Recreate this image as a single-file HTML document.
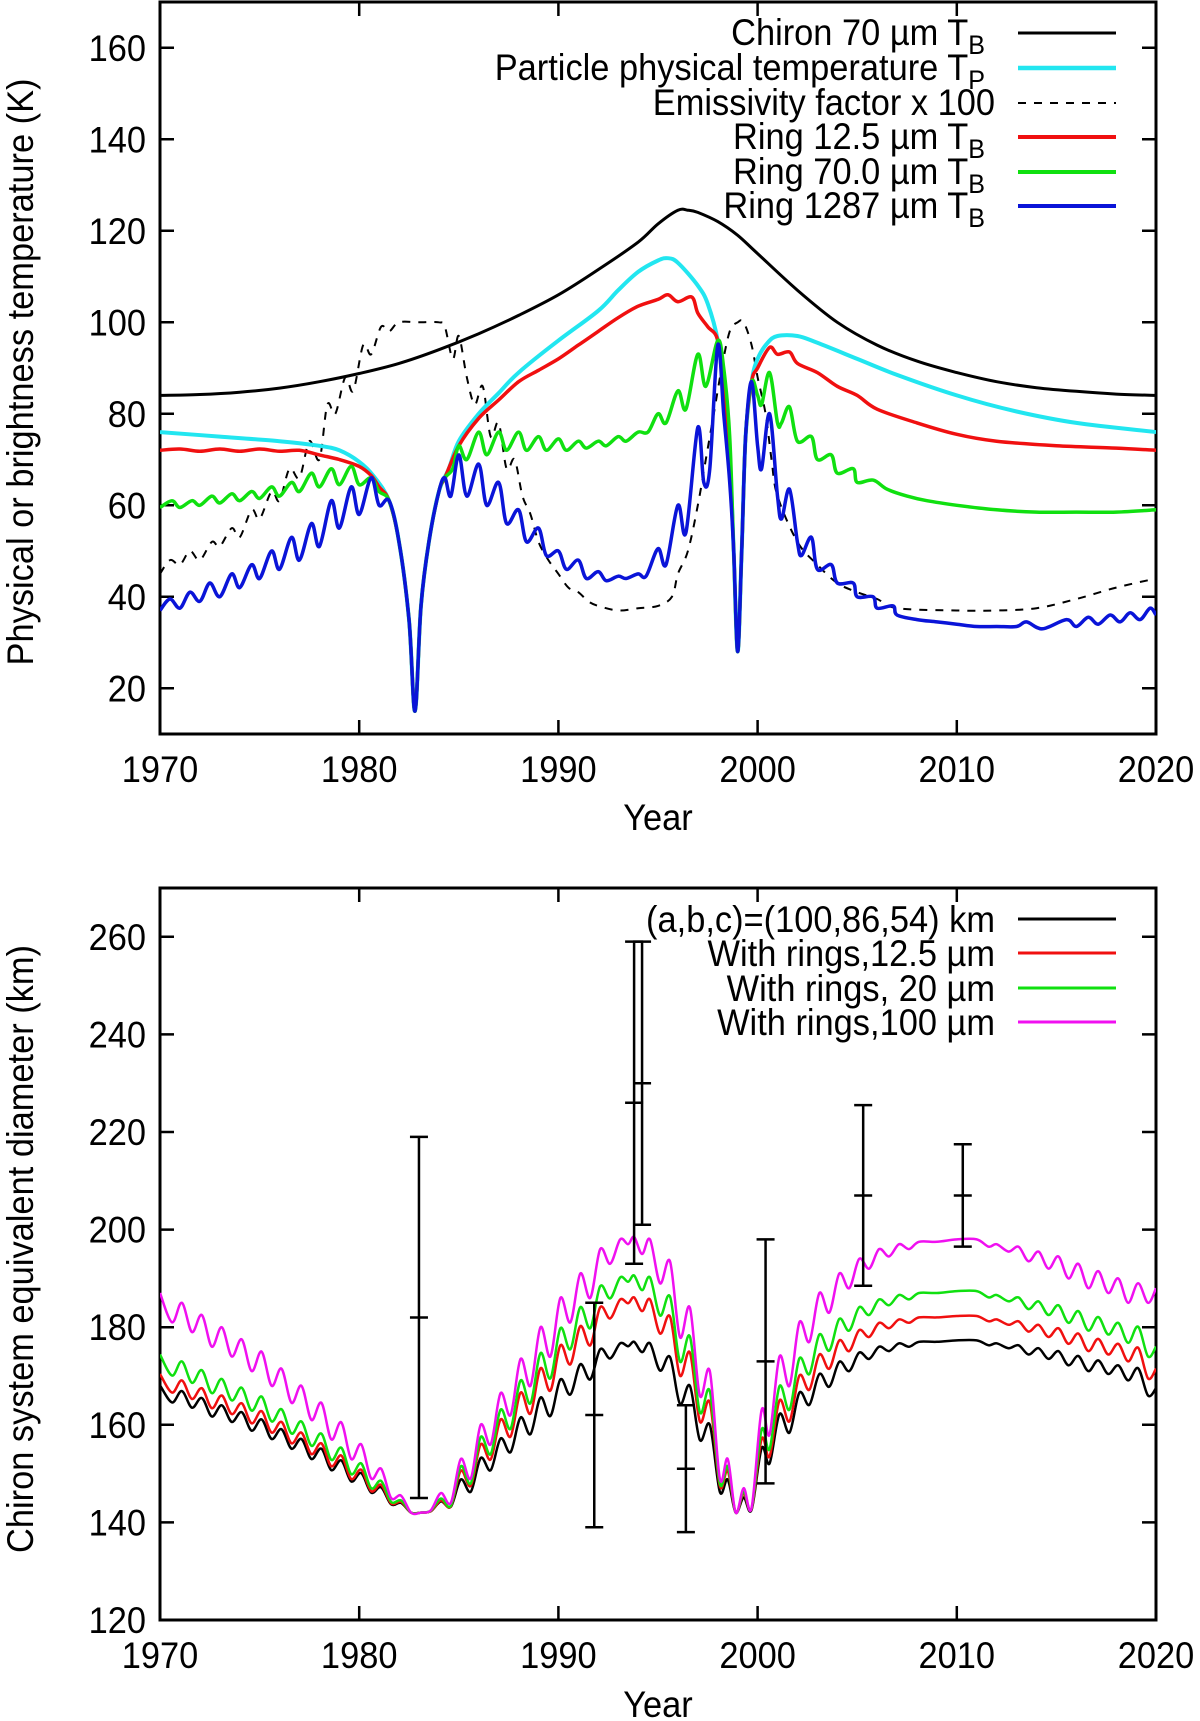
<!DOCTYPE html>
<html><head><meta charset="utf-8"><style>
html,body{margin:0;padding:0;background:#fff;}
svg{display:block;}
text{font-family:"Liberation Sans",sans-serif;fill:#000;}
</style></head><body>
<svg id="chart" width="1200" height="1721" viewBox="0 0 1200 1721" xmlns="http://www.w3.org/2000/svg"></svg>
<script>
// ---------- TOP PANEL DATA ----------
const chironYears=[1970,1972,1974,1976,1978,1980,1982,1984,1986,1988,1990,1992,1994,1995,1996,1996.5,1997,1998,1999,2000,2002,2004,2006,2008,2010,2012,2014,2016,2018,2020];
const chironTB=[84,84.2,84.7,85.6,87,88.8,91,94,97.5,101.5,106,111.5,117.5,121.5,124.5,124.5,124,122,119,115,107,100,95,91.5,89,87,85.7,84.9,84.3,84];
const tpYears=[1970,1973,1976,1978,1979,1980,1980.7,1981.5,1982,1982.5,1982.8,1983.1,1983.5,1984,1984.5,1985,1986,1987,1988,1990,1992,1993,1994,1995,1995.5,1996,1997,1997.5,1998,1998.3,1998.6,1998.8,1999,1999.2,1999.4,1999.7,2000,2000.5,2001,2002,2003,2005,2007,2010,2013,2016,2020];
const tpVals=[76,75,74,73,72,69.5,66.5,61,52,35,15,38,52,63,68,74,80,84.5,89,96,102.5,107,111,113.5,114,113,108,104,96,85,70,50,28,50,75,87,92,95.5,97,97,95.5,92,88.5,84,80.5,78,76];
const emYears=[1970,1970.5,1971,1971.5,1972,1972.6,1973,1973.6,1974,1974.6,1975,1975.6,1976,1976.5,1977,1977.5,1978,1978.4,1978.8,1979.3,1979.7,1980.2,1980.6,1981.1,1981.5,1982,1983,1984,1984.3,1984.7,1985,1985.4,1985.8,1986.2,1986.6,1987,1987.4,1987.8,1988.2,1988.6,1989,1989.5,1990,1990.5,1991,1991.5,1992,1993,1994,1995,1995.7,1996,1996.5,1997,1997.4,1997.8,1998.2,1998.6,1999,1999.3,1999.7,2000,2000.4,2000.7,2001,2002,2003,2004,2005,2006,2007,2010,2012,2014,2016,2018,2020];
const emVals=[45,48,47,50,48,52,51,55,53,59,57,63,61,68,66,74,70,82,80,88,85,95,93,99,98,100,100,100,99,92,97,88,82,86,75,78,68,70,62,58,52,48,45,42,41,39,38,37,37.5,38,40,45,50,60,70,80,90,98,100,100,95,88,80,70,62,52,47,43,41,39.5,37.5,37,37,37.5,39.5,42,44];
const r12Years=[1970,1971,1972,1973,1974,1975,1976,1977,1978,1979,1980,1980.6,1981,1981.5,1982,1982.5,1982.8,1983.1,1983.5,1984,1984.3,1985,1986,1987,1988,1989,1990,1991,1992,1993,1994,1995,1995.5,1996,1996.7,1997,1997.5,1998,1998.3,1998.6,1998.8,1999,1999.2,1999.4,1999.7,2000,2000.6,2001,2001.6,2002,2003,2004,2005,2006,2008,2010,2012,2015,2018,2020];
const r12Vals=[72,72.3,71.8,72.3,71.8,72.3,71.8,72,71,70,68.5,66.5,64,61,52,35,15,38,52,63,66,73,79,83,87,89.5,92,95,98,101,103.5,105,106,104.5,105.5,102,99,96,85,70,50,28,50,75,87,90,94.5,93,93.5,91,89,86,84,81,78,75.5,74,73,72.5,72];
const r70Years=[1970,1970.6,1971,1971.6,1972,1972.6,1973,1973.6,1974,1974.6,1975,1975.6,1976,1976.6,1977,1977.6,1978,1978.6,1979,1979.6,1980,1980.6,1981,1981.5,1982,1982.5,1982.8,1983.1,1983.5,1984,1984.3,1984.7,1985,1985.4,1986,1986.4,1987,1987.4,1988,1988.4,1989,1989.4,1990,1990.4,1991,1991.4,1992,1992.4,1993,1993.4,1994,1994.5,1995,1995.4,1996,1996.4,1997,1997.4,1998,1998.3,1998.6,1998.8,1999,1999.2,1999.4,1999.7,2000,2000.2,2000.6,2001,2001.2,2001.6,2002,2002.7,2003,2003.7,2004,2004.8,2005,2005.8,2006.5,2007.5,2008.5,2010,2012,2014,2016,2018,2020];
const r70Vals=[59.5,61,59.5,61,60,62,60.5,62.5,61,63,61.5,64,62,65,63,67,64,68,64.5,68.5,64.5,66,63,61,52,35,15,38,52,63,66,68,73,70,76,71,76,72,76,72,75,72,74.5,72,74,72.5,74,73,75,74,76,76,80,78,85,81,93,86,96,90,75,50,28,50,75,87,84,82,89,78,78,81.5,74,75,70,71,67,68,65,65.5,63.5,62,61,60,59,58.5,58.5,58.5,59];
const r1287Years=[1970,1970.5,1971,1971.5,1972,1972.5,1973,1973.6,1974,1974.6,1975,1975.6,1976,1976.6,1977,1977.6,1978,1978.6,1979,1979.6,1980,1980.6,1981,1981.5,1982,1982.5,1982.8,1983.1,1983.5,1984,1984.3,1984.6,1985,1985.4,1986,1986.4,1987,1987.4,1988,1988.4,1989,1989.4,1990,1990.4,1991,1991.4,1992,1992.4,1993,1993.4,1994,1994.4,1995,1995.4,1996,1996.4,1997,1997.3,1997.6,1998,1998.3,1998.6,1998.8,1999,1999.2,1999.4,1999.7,2000,2000.2,2000.6,2001,2001.2,2001.6,2002,2002.2,2002.7,2003,2003.7,2004,2004.8,2005,2005.8,2006,2006.8,2007,2008,2009,2010,2011,2012,2013,2013.5,2014.3,2015.5,2016,2016.6,2017.1,2017.7,2018.2,2018.7,2019.2,2019.7,2020];
const r1287Vals=[37,39.5,37.5,41,39,43,40,45,42,47,44,50,46,53,48,56,51,61,55,64,58,66,60,61,52,35,15,38,52,63,66,62,71,62,69,60,65,56,59,52,55,49,50,46,48,44,45.5,43.5,44.5,44,45,44.5,50.5,47,60,54,77,65,68,95,80,65,50,28,50,75,87,73,68,80,62,57,63.5,52,49,53,46,47,43,43,40,40,37.5,38,36,35,34.5,34,33.5,33.5,33.5,34.5,33,35,33.5,35.5,34,36,34.5,36.5,35,37.5,36];
// ---------- BOTTOM PANEL DATA ----------
const dYears=[1970,1970.6,1971.1,1971.6,1972.1,1972.6,1973.1,1973.6,1974.1,1974.6,1975.1,1975.6,1976.1,1976.6,1977.1,1977.6,1978.1,1978.6,1979.1,1979.6,1980.1,1980.6,1981.1,1981.6,1982.1,1982.6,1983.1,1983.6,1984.1,1984.6,1985.1,1985.6,1986.1,1986.6,1987.1,1987.6,1988.1,1988.6,1989.1,1989.6,1990.1,1990.6,1991.1,1991.6,1992.1,1992.6,1993.1,1993.5,1993.8,1994.2,1994.6,1995.1,1995.6,1996.1,1996.6,1997.1,1997.6,1998.1,1998.5,1998.9,1999.3,1999.7,2000.2,2000.6,2001.1,2001.6,2002.1,2002.6,2003.1,2003.6,2004.1,2004.6,2005.1,2005.6,2006.1,2006.6,2007.1,2007.6,2008.1,2009,2010,2011,2011.6,2012,2012.6,2013.1,2013.6,2014.1,2014.6,2015.1,2015.6,2016.1,2016.6,2017.1,2017.6,2018.1,2018.6,2019.1,2019.6,2020];
const dPink=[187,181,185,179,182.5,176,180,174,177.5,171,175,168,171.5,164.5,168,161,164.5,157,160.5,153,156,149,151,145,145.5,142,142,142.5,146,144,153,149,160,156,166.5,162,173.5,168,180,174,186,181,191,186,196,193,198,197,198.5,195,198,189,193.5,178,184,166,171,149,153,142,147,143,163,158,174,168,181,177,187,183,191,188,194,192,196,194.5,197,196,197.5,197.5,198,198,196.5,197,195.5,196.5,193.5,195.5,192,194.5,190,193,188,191.5,187,190,185,189,185,188];
const dBlack=[168.1,164.6,166.9,163.5,165.5,161.7,164,160.6,162.6,158.8,161.1,157.1,159.1,155.1,157.1,153,155.1,150.7,152.7,148.4,150.1,146.1,147.2,143.7,144,142,142,142.3,144.3,143.2,148.8,146.3,153.2,150.7,157.2,154.4,161.5,158.1,165.6,161.8,169.3,166.2,172.4,169.3,175.5,173.6,176.7,176.1,177,174.9,176.7,171.1,173.9,164.3,168,156.9,160,146.3,148.8,142,145.1,142.6,155.2,152.1,162.2,158.4,166.6,164.1,170.4,167.8,172.9,171,174.8,173.5,176,175.1,176.7,176,177,177,177.3,177.3,176.3,176.7,175.7,176.3,174.4,175.7,173.5,175.1,172.2,174.1,171,173.2,170.4,172.2,169.1,171.6,166,167.5];
const dRed=[170.4,166.6,169.1,165.3,167.5,163.4,166,162.2,164.4,160.3,162.8,158.4,160.6,156.2,158.4,154,156.2,151.5,153.7,148.9,150.8,146.4,147.7,143.9,144.2,142,142,142.3,144.5,143.3,150.6,147.5,156,152.9,161.1,157.6,166.6,162.3,171.6,167,176.3,172.4,180.2,176.3,184.1,181.8,185.7,184.9,186.1,183.3,185.7,178.7,182.2,170.1,174.8,160.7,164.6,147.5,150.6,142,145.9,142.8,157.1,153.5,165,160.7,170.1,167.2,174.4,171.5,177.3,175.1,179.4,178,180.9,179.8,181.6,180.9,182,182,182.3,182.3,181.2,181.6,180.5,181.2,179.1,180.5,178,179.8,176.6,178.7,175.1,177.6,174.4,176.6,173,175.8,169.5,171.5];
const dGreen=[174.4,170.1,173,168.6,171.2,166.5,169.4,165,167.6,162.9,165.8,160.7,163.2,158.2,160.7,155.7,158.2,152.8,155.3,149.9,152.1,147,148.5,144.2,144.5,142,142,142.4,144.9,143.4,151.5,148,157.5,154,163.1,159.2,169.1,164.4,174.7,169.5,179.8,175.5,184.1,179.8,188.4,185.9,190.2,189.3,190.6,187.6,190.2,182.4,186.3,173,178.1,162.6,166.9,148,151.5,142,146.3,142.9,159,155,167.9,163.1,173.6,170.4,178.5,175.2,181.7,179.3,184.1,182.5,185.7,184.5,186.6,185.7,187,187,187.4,187.4,186.1,186.6,185.3,186.1,183.7,185.3,182.5,184.5,180.9,183.3,179.3,182.1,178.5,180.9,176.8,180.1,174,176];
const ebYears=[1983,1991.8,1993.8,1994.2,1996.4,2000.4,2005.3,2010.3];
const ebCenter=[182,162,226,230,151,173,207,207];
const ebLow=[145,139,193,201,138,148,188.5,196.5];
const ebHigh=[219,185,259,259,164,198,225.5,217.5];
const xTicks=[1970,1980,1990,2000,2010,2020];
const topYTicks=[20,40,60,80,100,120,140,160];
const botYTicks=[120,140,160,180,200,220,240,260];

const NS='http://www.w3.org/2000/svg';
const svg=document.getElementById('chart');
const X0=160,X1=1156;
const xs=y=>X0+(y-1970)/50*(X1-X0);
const T={top:2,bot:734,min:10,max:170};
const B={top:888,bot:1620,min:120,max:270};
const ysT=v=>T.bot-(v-T.min)/(T.max-T.min)*(T.bot-T.top);
const ysB=v=>B.bot-(v-B.min)/(B.max-B.min)*(B.bot-B.top);
const SX=0.93;
function el(tag,attrs,parent){const e=document.createElementNS(NS,tag);for(const k in attrs)e.setAttribute(k,attrs[k]);(parent||svg).appendChild(e);return e;}
function label(x,y,str,anchor,name,parent){
  const g=el('g',{transform:'translate('+x+','+y+') scale('+SX+',1)'},parent);
  const t=el('text',{x:0,y:0,'font-size':37,'text-anchor':anchor||'middle'},g);
  t.textContent=str;
  
  
  return t;
}
function line(xsArr,vals,ys,color,w,name,dash){
  const P=xsArr.map((v,i)=>[xs(v),ys(vals[i])]);
  let d='M'+P[0][0].toFixed(1)+','+P[0][1].toFixed(1);
  for(let i=0;i<P.length-1;i++){
    const p0=P[Math.max(0,i-1)],p1=P[i],p2=P[i+1],p3=P[Math.min(P.length-1,i+2)];
    const c1=[p1[0]+(p2[0]-p0[0])/6,p1[1]+(p2[1]-p0[1])/6];
    const c2=[p2[0]-(p3[0]-p1[0])/6,p2[1]-(p3[1]-p1[1])/6];
    d+='C'+c1[0].toFixed(1)+','+c1[1].toFixed(1)+' '+c2[0].toFixed(1)+','+c2[1].toFixed(1)+' '+p2[0].toFixed(1)+','+p2[1].toFixed(1);
  }
  const p=el('path',{d:d,fill:'none',stroke:color,'stroke-width':w,'stroke-linejoin':'round'});
  if(dash)p.setAttribute('stroke-dasharray',dash);
  
  
  return p;
}
function axes(P,ys,yTicks,prefix,clipId){
  const f=el('rect',{x:X0,y:P.top,width:X1-X0,height:P.bot-P.top,fill:'none',stroke:'#000','stroke-width':3});
  
  
  xTicks.forEach(t=>{
    const x=xs(t);
    const a=el('path',{d:'M'+x+','+P.bot+'v-14M'+x+','+P.top+'v14',stroke:'#000','stroke-width':2.5});
    
    
    label(x,P.bot+48,String(t),'middle',prefix+'-x-tick-label');
  });
  yTicks.forEach(t=>{
    const y=ys(t);
    const a=el('path',{d:'M'+X0+','+y+'h14M'+X1+','+y+'h-14',stroke:'#000','stroke-width':2.5});
    
    
    label(X0-14,y+13,String(t),'end',prefix+'-y-tick-label');
  });
  const c=el('clipPath',{id:clipId});
  el('rect',{x:X0,y:P.top,width:X1-X0,height:P.bot-P.top},c);
}
function legendText(x,y,main,sub,name){
  const g=el('g',{transform:'translate('+x+','+y+') scale('+SX+',1)'});
  const t=el('text',{x:0,y:0,'font-size':37,'text-anchor':'end'},g);
  t.appendChild(document.createTextNode(main));
  if(sub){const s=el('tspan',{'font-size':27,dy:9},t);s.textContent=sub;}
  
  
}
function legendLine(y,color,w,name,dash){
  const l=el('line',{x1:1018,x2:1116,y1:y,y2:y,stroke:color,'stroke-width':w});
  if(dash)l.setAttribute('stroke-dasharray',dash);
  
  
}

// ---------- TOP ----------
axes(T,ysT,topYTicks,'top','clipT');
const gT=el('g',{'clip-path':'url(#clipT)'});


gT.appendChild(line(chironYears,chironTB,ysT,'#000',3,'chiron-70um-line'));
gT.appendChild(line(emYears,emVals,ysT,'#000',2,'emissivity-line','8,8'));
gT.appendChild(line(tpYears,tpVals,ysT,'#22e6f0',4,'particle-temperature-line'));
gT.appendChild(line(r12Years,r12Vals,ysT,'#f01010',3.5,'ring-12-5um-line'));
gT.appendChild(line(r70Years,r70Vals,ysT,'#10e010',3.5,'ring-70um-line'));
gT.appendChild(line(r1287Years,r1287Vals,ysT,'#0a14d8',3.5,'ring-1287um-line'));
const tl=[['Chiron 70 µm T','B','#000',3,null],['Particle physical temperature T','P','#22e6f0',4.5,null],['Emissivity factor x 100','','#000',2,'8,8'],['Ring 12.5 µm T','B','#f01010',4,null],['Ring 70.0 µm T','B','#10e010',4,null],['Ring 1287 µm T','B','#0a14d8',4,null]];
const tlY=[33,68,103,137,172,206];
tl.forEach((r,i)=>{legendText(r[1]?985:995,tlY[i]+12,r[0],r[1],'top-legend-label');legendLine(tlY[i],r[2],r[3],'top-legend-swatch',r[4]);});
label(658,830,'Year','middle','top-x-axis-title');
(function(){const g=el('g',{transform:'translate(33,372) rotate(-90) scale('+SX+',1)'});const t=el('text',{x:0,y:0,'font-size':37,'text-anchor':'middle'},g);t.textContent='Physical or brightness temperature (K)';})();

// ---------- BOTTOM ----------
axes(B,ysB,botYTicks,'bottom','clipB');
const gB=el('g',{'clip-path':'url(#clipB)'});


gB.appendChild(line(dYears,dBlack,ysB,'#000',2.5,'ellipsoid-diameter-line'));
gB.appendChild(line(dYears,dRed,ysB,'#f01010',2.5,'rings-12-5um-diameter-line'));
gB.appendChild(line(dYears,dGreen,ysB,'#10e010',2.5,'rings-20um-diameter-line'));
gB.appendChild(line(dYears,dPink,ysB,'#f010f0',2.5,'rings-100um-diameter-line'));
ebYears.forEach((yr,i)=>{
  const x=xs(yr),yl=ysB(ebLow[i]),yh=ysB(ebHigh[i]),yc=ysB(ebCenter[i]);
  const p=el('path',{d:'M'+x+','+yl+'V'+yh+'M'+(x-9)+','+yl+'h18M'+(x-9)+','+yh+'h18M'+(x-9)+','+yc+'h18',stroke:'#000','stroke-width':2.5,fill:'none'});
  
  
});
const bl=[['(a,b,c)=(100,86,54) km ','#000'],['With rings,12.5 µm','#f01010'],['With rings, 20 µm','#10e010'],['With rings,100 µm','#f010f0']];
const blY=[919,953,988,1022];
bl.forEach((r,i)=>{legendText(995,blY[i]+13,r[0],'','bottom-legend-label');legendLine(blY[i],r[1],3,'bottom-legend-swatch',null);});
label(658,1717,'Year','middle','bottom-x-axis-title');
(function(){const g=el('g',{transform:'translate(33,1249) rotate(-90) scale('+SX+',1)'});const t=el('text',{x:0,y:0,'font-size':37,'text-anchor':'middle'},g);t.textContent='Chiron system equivalent diameter (km)';})();
</script>
</body></html>
